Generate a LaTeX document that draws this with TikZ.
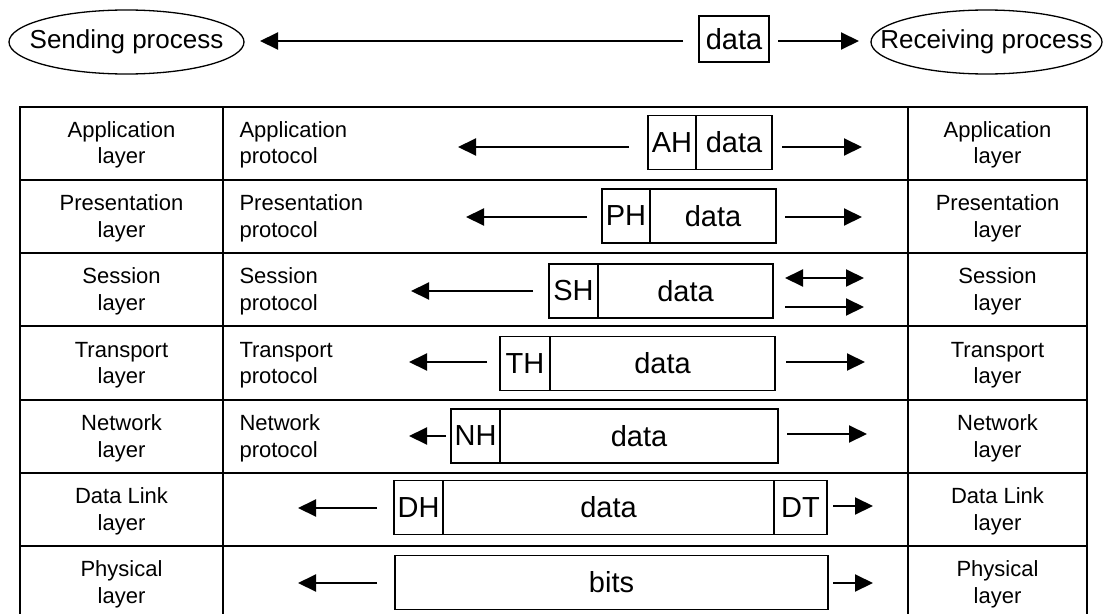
\documentclass[tikz,border=0pt]{standalone}
\usepackage{fontspec}
\setmainfont{Liberation Sans}
\usetikzlibrary{arrows.meta}

% packet box: name, left x, right x, centre y, text
\newcommand\pkt[5]{%
  \node[pbox,minimum width={#3-#2},minimum height=54] (#1) at ({(#2+#3)/2},#4) {#5};}
% arrow between two named coordinates: name prefix, tail x, tip x, y
\newcommand\flow[4]{%
  \coordinate (#1s) at (#2,#4);
  \coordinate (#1e) at (#3,#4);
  \draw[arr] (#1s) -- (#1e);}

\begin{document}
\begin{tikzpicture}[x=1pt,y=-1pt,
  grid/.style={line width=2pt},
  frame/.style={line width=2.6pt,line join=miter},
  arr/.style={line width=2pt,-{Triangle[length=18pt,width=17pt]}},
  dblarr/.style={line width=2pt,{Triangle[length=18pt,width=17pt]}-{Triangle[length=18pt,width=17pt]}},
  pbox/.style={draw,line width=1.6pt,inner sep=0pt,font=\fontsize{29}{34}\selectfont},
  lay/.style={align=center,font=\fontsize{22}{26.5}\selectfont},
  proto/.style={align=left,anchor=west,font=\fontsize{22}{26.5}\selectfont},
  proc/.style={inner sep=0pt,font=\fontsize{26}{30}\selectfont},
  ring/.style={line width=1.3pt}]
\useasboundingbox (0,0) rectangle (1108,613);
\clip (0,0) rectangle (1108,613);

% ---- processes and end-to-end data ----
\node[proc] (send) at (126.5,42) {Sending process};
\draw[ring] (send.center) ellipse [x radius=117.5, y radius=32];
\node[proc] (recv) at (986.5,42) {Receiving process};
\draw[ring] (recv.center) ellipse [x radius=115.5, y radius=32];
\node[draw,line width=1.6pt,inner sep=0pt,minimum width=70,minimum height=46,
      font=\fontsize{29}{34}\selectfont] (top) at (734,39) {data};
\coordinate (topl) at (683,41);
\coordinate (sendtip) at (260,41);
\coordinate (topr) at (778,41);
\coordinate (recvtip) at (859,41);
\draw[arr] (topl) -- (sendtip);
\draw[arr] (topr) -- (recvtip);

% ---- table frame ----
\draw[frame] (20,620) -- (20,107) -- (1087,107) -- (1087,620);
\foreach \y in {180,253,326,400,473,546}
  \draw[grid] (20,\y) -- (1087,\y);
\draw[grid] (223,107) -- (223,620);
\draw[grid] (908,107) -- (908,620);

% ---- layer names, both stacks ----
\foreach \n/\t/\c in {la/Application/145,lp/Presentation/218.5,ls/Session/291.5,
                      lt/Transport/365,ln/Network/438.5,ld/Data Link/511.5,lh/Physical/584.5}{
  \node[lay] (\n-left)  at (121.5,\c) {\t\\layer};
  \node[lay] (\n-right) at (997.5,\c) {\t\\layer};
}

% ---- peer protocols ----
\node[proto] (pa) at (236,145)   {Application\\protocol};
\node[proto] (pp) at (236,218.5) {Presentation\\protocol};
\node[proto] (ps) at (236,291.5) {Session\\protocol};
\node[proto] (pt) at (236,365)   {Transport\\protocol};
\node[proto] (pn) at (236,438.5) {Network\\protocol};

% ---- application ----
\pkt{ah}{648}{696}{142.5}{AH}
\pkt{ad}{696}{772}{142.5}{data}
\flow{a1}{629}{458}{147}
\flow{a2}{782}{862}{147}

% ---- presentation ----
\pkt{ph}{602}{650}{216}{PH}
\pkt{pd}{650}{776}{216}{data}
\flow{p1}{587}{466}{217}
\flow{p2}{785}{862}{217}

% ---- session ----
\pkt{sh}{549}{598}{291}{SH}
\pkt{sd}{598}{773}{291}{data}
\flow{s1}{533}{411}{291}
\coordinate (s2s) at (785,278);
\coordinate (s2e) at (864,278);
\draw[dblarr] (s2s) -- (s2e);
\flow{s3}{785}{864}{307}

% ---- transport ----
\pkt{th}{500}{550}{363.5}{TH}
\pkt{td}{550}{775}{363.5}{data}
\flow{t1}{487}{409}{362}
\flow{t2}{786}{865}{362}

% ---- network ----
\pkt{nh}{451}{500}{436}{NH}
\pkt{nd}{500}{778}{436}{data}
\flow{n1}{446}{409}{436}
\flow{n2}{787}{867}{434}

% ---- data link ----
\pkt{dh}{394}{443}{507.5}{DH}
\pkt{dd}{443}{774}{507.5}{data}
\pkt{dt}{774}{827}{507.5}{DT}
\flow{d1}{377}{298}{508}
\flow{d2}{833}{873}{506}

% ---- physical ----
\pkt{bt}{395}{828}{582.5}{bits}
\flow{b1}{377}{298}{583}
\flow{b2}{833}{873}{583}
\end{tikzpicture}
\end{document}
